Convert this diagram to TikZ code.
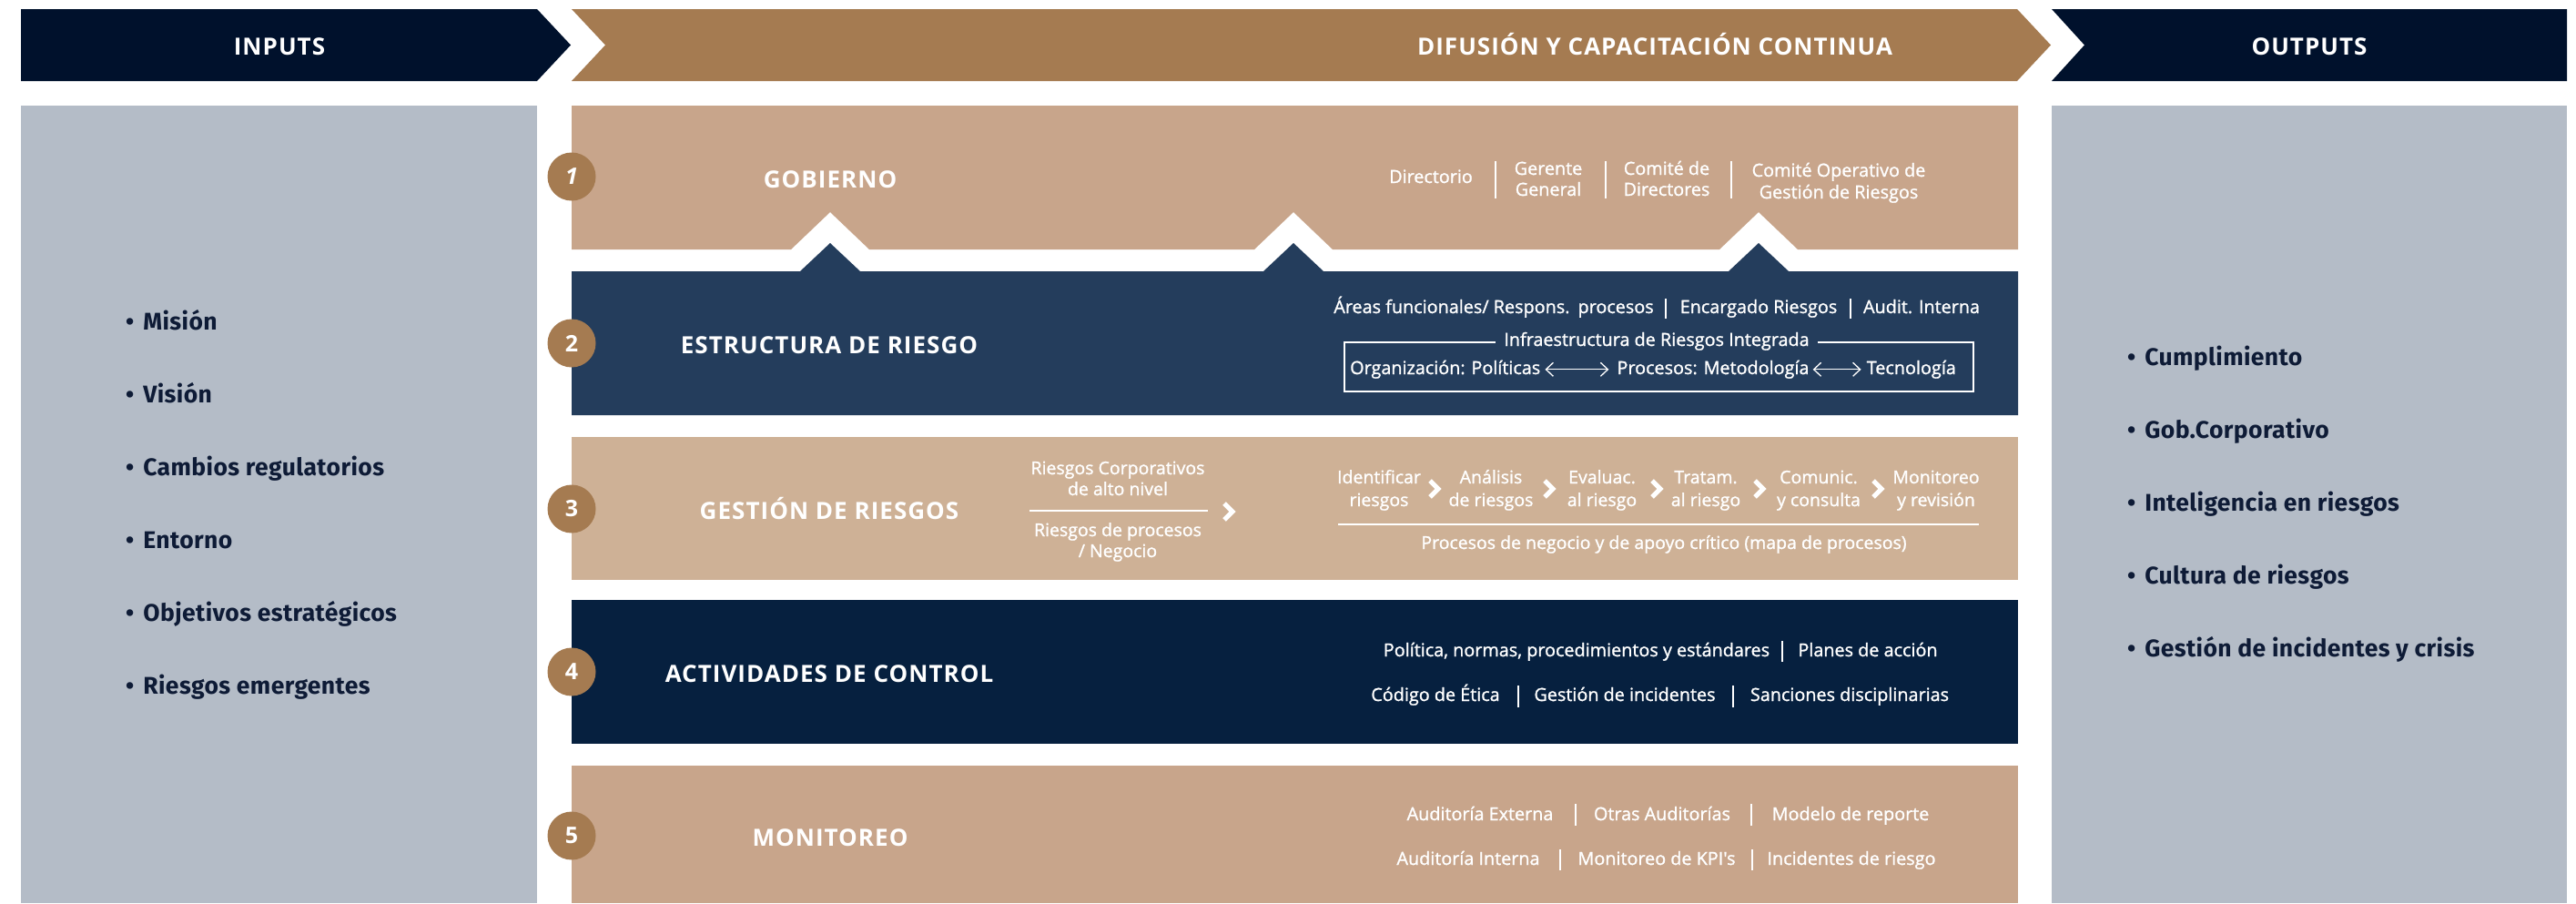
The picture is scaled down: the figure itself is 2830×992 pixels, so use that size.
\documentclass[tikz,border=0pt]{standalone}
\usepackage{fontspec}
\setmainfont{Open Sans}
\newfontfamily\itemfont[FakeBold=1.2]{Open Sans}
\newfontfamily\headfont[LetterSpace=4]{Open Sans}
\newfontfamily\listfont[LetterSpace=1.5]{Fira Sans}
\usetikzlibrary{arrows.meta,calc}
\definecolor{navyH}{HTML}{00112C}
\definecolor{brownH}{HTML}{A57B51}
\definecolor{panelG}{HTML}{B4BCC7}
\definecolor{tanA}{HTML}{C8A58B}
\definecolor{tanB}{HTML}{CEB196}
\definecolor{blueB}{HTML}{243D5C}
\definecolor{navyC}{HTML}{06203F}
\definecolor{listC}{HTML}{0E1B36}
\tikzset{
  hdrtxt/.style={text=white, inner sep=0, anchor=base, font=\headfont\bfseries\fontsize{26bp}{30bp}\selectfont},
  headtxt/.style={text=white, inner sep=0, anchor=base, font=\headfont\bfseries\fontsize{26bp}{30bp}\selectfont},
  itemtxt/.style={text=white, inner sep=0, anchor=base, font=\itemfont\fontsize{19.8bp}{23bp}\selectfont},
  steptxt/.style={text=white, inner sep=0, anchor=base, font=\itemfont\fontsize{19.5bp}{23bp}\selectfont},
  listtxt/.style={text=listC, inner sep=0, anchor=base west, font=\listfont\bfseries\fontsize{26.5bp}{30bp}\selectfont},
  numc/.style={circle, fill=brownH, minimum size=53bp, inner sep=0, text=white, font=\bfseries\fontsize{25bp}{30bp}\selectfont},
  sepline/.style={white, line width=1.5bp},
  rulew/.style={white, line width=2bp},
  chev/.style={white, line width=5bp, line join=miter},
  dbl/.style={white, line width=1.3bp, {Straight Barb[length=8bp,width=15bp]}-{Straight Barb[length=8bp,width=15bp]}},
}
\newcommand{\bul}{\textbullet\hspace{10bp}}
\begin{document}
\begin{tikzpicture}[x=1bp,y=-1bp]
\useasboundingbox (0,0) rectangle (2830,992);
\fill[white] (0,0) rectangle (2830,992);
% header arrows
\fill[navyH] (23,10) -- (590,10) -- (627,49.5) -- (590,89) -- (23,89) -- cycle;
\fill[brownH] (628,10) -- (2216,10) -- (2253,49.5) -- (2216,89) -- (628,89) -- (665,49.5) -- cycle;
\fill[navyH] (2254,10) -- (2820,10) -- (2820,89) -- (2254,89) -- (2290,49.5) -- cycle;
\node[hdrtxt] (hin) at (307,60) {INPUTS};
\node[hdrtxt] (hdif) at (1818,60) {DIFUSIÓN Y CAPACITACIÓN CONTINUA};
\node[hdrtxt] (hout) at (2537,60) {OUTPUTS};
% side panels
\fill[panelG] (23,116) rectangle (590,992);
\fill[panelG] (2254,116) rectangle (2820,992);
% box 1
\fill[tanA] (628,116) -- (2217,116) -- (2217,274) -- (1975,274) -- (1932,233) -- (1889,274)
  -- (1464,274) -- (1421,233) -- (1378,274) -- (955,274) -- (912,233) -- (869,274) -- (628,274) -- cycle;
% box 2
\fill[blueB] (628,298) -- (879,298) -- (912,267) -- (945,298) -- (1388,298) -- (1421,267) -- (1454,298)
  -- (1899,298) -- (1932,267) -- (1965,298) -- (2217,298) -- (2217,456) -- (628,456) -- cycle;
% box 3,4,5
\fill[tanB] (628,480) rectangle (2217,637);
\fill[navyC] (628,659) rectangle (2217,817);
\fill[tanA] (628,841) rectangle (2217,992);
% number circles
\node[numc] (n1) at (628,194) {\itshape 1};
\node[numc] (n2) at (628,377) {2};
\node[numc] (n3) at (628,559) {3};
\node[numc] (n4) at (628,738) {4};
\node[numc] (n5) at (628,918) {5};
% headings
\node[headtxt] (t1) at (912,206) {GOBIERNO};
\node[headtxt] (t2) at (911,388) {ESTRUCTURA DE RIESGO};
\node[headtxt] (t3) at (911,570) {GESTIÓN DE RIESGOS};
\node[headtxt] (t4) at (911,749) {ACTIVIDADES DE CONTROL};
\node[headtxt] (t5) at (912,929) {MONITOREO};
% box 1 items
\node[itemtxt] (g1) at (1572,201) {Directorio};
\draw[sepline] (1643,177) -- (1643,218);
\node[itemtxt] (g2a) at (1701,192) {Gerente};
\node[itemtxt] (g2b) at (1701,215) {General};
\draw[sepline] (1764,177) -- (1764,218);
\node[itemtxt] (g3a) at (1831,192) {Comité de};
\node[itemtxt] (g3b) at (1831,215) {Directores};
\draw[sepline] (1902,177) -- (1902,218);
\node[itemtxt] (g4a) at (2020,194) {Comité Operativo de};
\node[itemtxt] (g4b) at (2020,218) {Gestión de Riesgos};
% box 2 items
\node[itemtxt] (e1) at (1641,344) {Áreas funcionales/ Respons.\hspace{9bp}procesos};
\draw[sepline] (1830,328) -- (1830,350);
\node[itemtxt] (e2) at (1932,344) {Encargado Riesgos};
\draw[sepline] (2033,328) -- (2033,350);
\node[itemtxt] (e3) at (2111,344) {Audit. Interna};
\draw[white, line width=1.5bp] (1477,376) rectangle (2168,430);
\node[itemtxt, fill=blueB, inner xsep=9bp, inner ysep=3bp] (einf) at (1820,380) {Infraestructura de Riesgos Integrada};
\node[itemtxt, anchor=base west] (eorg) at (1483,411) {Organización: Políticas};
\node[itemtxt, anchor=base east] (etec) at (2149,411) {Tecnología};
\node[itemtxt] (epro) at (1882,411) {Procesos: Metodología};
\draw[dbl] ($(eorg.east)+(5,0)$) -- ($(eorg.east -| epro.west)+(-9,0)$);
\draw[dbl] ($(epro.east)+(4,0)$) -- ($(epro.east -| etec.west)+(-6,0)$);
% box 3 items
\node[steptxt] (r1a) at (1228,521) {Riesgos Corporativos};
\node[steptxt] (r1b) at (1228,544) {de alto nivel};
\draw[rulew] (1131,561) -- (1327,561);
\node[steptxt] (r2a) at (1228,589) {Riesgos de procesos};
\node[steptxt] (r2b) at (1228,612) {/ Negocio};
\draw[chev] (1345,553) -- (1354,562) -- (1345,571);
\node[steptxt] (s1a) at (1515,531) {Identificar};
\node[steptxt] (s1b) at (1515,556) {riesgos};
\node[steptxt] (s2a) at (1638,531) {Análisis};
\node[steptxt] (s2b) at (1638,556) {de riesgos};
\node[steptxt] (s3a) at (1760,531) {Evaluac.};
\node[steptxt] (s3b) at (1760,556) {al riesgo};
\node[steptxt] (s4a) at (1874,531) {Tratam.};
\node[steptxt] (s4b) at (1874,556) {al riesgo};
\node[steptxt] (s5a) at (1998,531) {Comunic.};
\node[steptxt] (s5b) at (1998,556) {y consulta};
\node[steptxt] (s6a) at (2127,531) {Monitoreo};
\node[steptxt] (s6b) at (2127,556) {y revisión};
\foreach \cx in {1576,1702,1820,1933,2063}{
  \draw[chev] (\cx-5,528) -- (\cx+4,537) -- (\cx-5,546);
}
\draw[rulew] (1470,576) -- (2174,576);
\node[steptxt] (s7) at (1828,603) {Procesos de negocio y de apoyo crítico (mapa de procesos)};
% box 4 items
\node[itemtxt] (c1) at (1732,721) {Política, normas, procedimientos y estándares};
\draw[sepline] (1958,704) -- (1958,727);
\node[itemtxt] (c2) at (2052,721) {Planes de acción};
\node[itemtxt] (c3) at (1577,770) {Código de Ética};
\draw[sepline] (1668,753) -- (1668,777);
\node[itemtxt] (c4) at (1785,770) {Gestión de incidentes};
\draw[sepline] (1904,753) -- (1904,777);
\node[itemtxt] (c5) at (2032,770) {Sanciones disciplinarias};
% box 5 items
\node[itemtxt] (m1) at (1626,901) {Auditoría Externa};
\draw[sepline] (1731,883) -- (1731,907);
\node[itemtxt] (m2) at (1826,901) {Otras Auditorías};
\draw[sepline] (1924,883) -- (1924,907);
\node[itemtxt] (m3) at (2033,901) {Modelo de reporte};
\node[itemtxt] (m4) at (1613,950) {Auditoría Interna};
\draw[sepline] (1714,933) -- (1714,956);
\node[itemtxt] (m5) at (1820,950) {Monitoreo de KPI's};
\draw[sepline] (1925,933) -- (1925,956);
\node[itemtxt] (m6) at (2034,950) {Incidentes de riesgo};
% inputs list
\node[listtxt] (i1) at (138,362) {\bul Misión};
\node[listtxt] (i2) at (138,442) {\bul Visión};
\node[listtxt] (i3) at (138,522) {\bul Cambios regulatorios};
\node[listtxt] (i4) at (138,602) {\bul Entorno};
\node[listtxt] (i5) at (138,682) {\bul Objetivos estratégicos};
\node[listtxt] (i6) at (138,762) {\bul Riesgos emergentes};
% outputs list
\node[listtxt] (o1) at (2337,401) {\bul Cumplimiento};
\node[listtxt] (o2) at (2337,481) {\bul Gob.Corporativo};
\node[listtxt] (o3) at (2337,561) {\bul Inteligencia en riesgos};
\node[listtxt] (o4) at (2337,641) {\bul Cultura de riesgos};
\node[listtxt] (o5) at (2337,721) {\bul Gestión de incidentes y crisis};
\end{tikzpicture}
\end{document}
